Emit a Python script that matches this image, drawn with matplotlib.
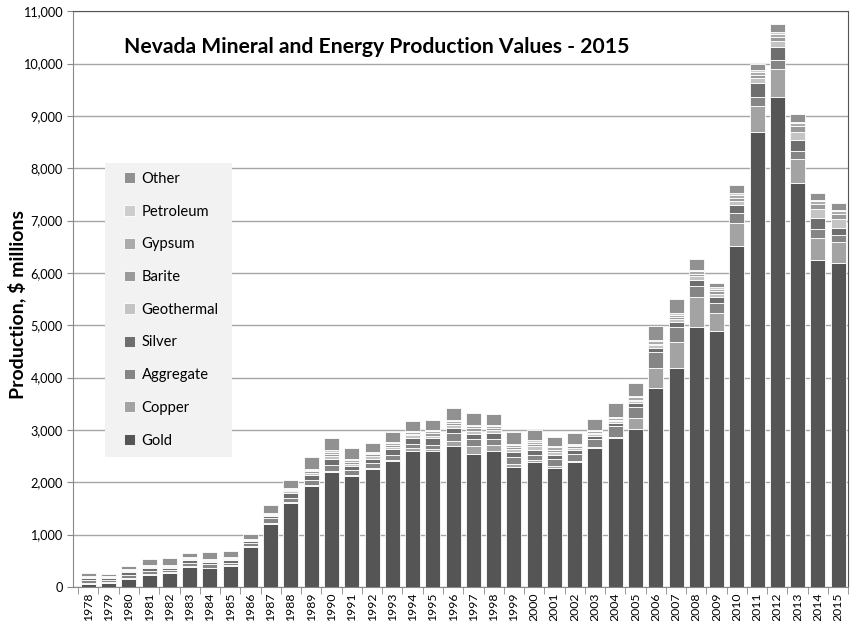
import matplotlib
matplotlib.use('Agg')
import matplotlib.pyplot as plt
import numpy as np
from matplotlib.ticker import FuncFormatter
from matplotlib.patches import Rectangle

years = list(range(1978, 2016))

gold = [50, 70, 153, 236, 274, 389, 357, 408, 771, 1200, 1605, 1930, 2200, 2120, 2250, 2405,
        2600, 2590, 2690, 2540, 2600, 2290, 2390, 2270, 2390, 2655, 2845, 3010, 3800, 4190,
        4970, 4890, 6510, 8690, 9360, 7720, 6245, 6190]
copper = [30, 20, 10, 10, 5, 10, 10, 5, 10, 20, 20, 20, 20, 20, 25, 30, 60, 40, 108, 159,
          108, 60, 30, 40, 20, 20, 30, 210, 388, 484, 567, 344, 446, 503, 535, 465, 420, 401]
aggregate = [45, 40, 66, 66, 46, 66, 66, 52, 66, 95, 69, 88, 107, 88, 90, 85, 80, 81, 140, 127,
             127, 131, 110, 138, 139, 152, 193, 223, 293, 300, 223, 191, 191, 178, 172, 153, 178, 127]
silver = [40, 36, 57, 45, 32, 51, 51, 51, 38, 45, 108, 96, 115, 76, 83, 108, 115, 127, 102, 102,
          108, 100, 96, 76, 64, 51, 64, 64, 89, 96, 115, 108, 153, 255, 255, 204, 204, 140]
geothermal = [5, 5, 5, 8, 10, 10, 12, 12, 8, 15, 25, 40, 55, 50, 50, 55, 45, 55, 55, 60,
              55, 55, 60, 60, 45, 45, 40, 45, 45, 50, 60, 70, 80, 100, 110, 150, 170, 170]
barite = [15, 12, 18, 22, 20, 15, 16, 14, 6, 14, 22, 35, 45, 38, 35, 35, 30, 40, 38, 42,
          35, 35, 40, 40, 28, 25, 22, 30, 35, 35, 45, 45, 55, 65, 80, 110, 100, 100]
gypsum = [15, 12, 16, 18, 18, 14, 15, 13, 6, 12, 20, 30, 42, 35, 33, 35, 30, 40, 38, 42,
          35, 38, 48, 45, 32, 35, 33, 40, 45, 45, 50, 50, 55, 55, 60, 60, 55, 55]
petroleum = [10, 6, 12, 16, 16, 12, 14, 12, 5, 10, 16, 22, 30, 23, 22, 21, 16, 24, 22, 28,
             22, 22, 30, 33, 22, 22, 20, 25, 28, 30, 36, 32, 33, 35, 37, 30, 25, 25]
other = [50, 55, 57, 108, 127, 83, 127, 127, 96, 146, 159, 229, 242, 204, 172, 185, 204, 185, 236, 217,
         210, 230, 204, 172, 204, 210, 267, 255, 255, 274, 204, 76, 159, 115, 140, 140, 127, 127]

series = [
    ('Gold', gold, '#555555'),
    ('Copper', copper, '#a3a3a3'),
    ('Aggregate', aggregate, '#858585'),
    ('Silver', silver, '#6e6e6e'),
    ('Geothermal', geothermal, '#c4c4c4'),
    ('Barite', barite, '#9a9a9a'),
    ('Gypsum', gypsum, '#ababab'),
    ('Petroleum', petroleum, '#cdcdcd'),
    ('Other', other, '#919191'),
]

plt.rcParams['font.family'] = ['Lato', 'DejaVu Sans']

W, H = 850, 621
fig = plt.figure(figsize=(8.5, 6.21), dpi=100)
ax = fig.add_axes([0.086, 0.0548, 0.912, 0.927])

x = np.arange(len(years))
bottom = np.zeros(len(years))
handles = []
for name, vals, color in series:
    h = ax.bar(x, vals, bottom=bottom, width=0.74, color=color, edgecolor='white',
               linewidth=0.6, label=name, zorder=3)
    handles.append(h)
    bottom += np.array(vals)

ax.set_ylim(0, 11000)
ax.set_xlim(-0.75, 37.45)
ax.set_yticks(np.arange(0, 11001, 1000))
ax.yaxis.set_major_formatter(FuncFormatter(lambda v, p: '{:,.0f}'.format(v)))
ax.grid(axis='y', color='#a6a6a6', linewidth=1.0, zorder=0)
ax.set_xticks(x)
ax.set_xticklabels([str(y) for y in years], rotation=90, fontsize=8.8)
ax.set_xticks(np.arange(-0.5, 38, 1), minor=True)
ax.tick_params(axis='x', which='major', length=0, pad=4)
ax.tick_params(axis='x', which='minor', length=5, color='#888888')
ax.tick_params(axis='y', labelsize=9.2, length=4, color='#888888')

for s in ['left', 'bottom']:
    ax.spines[s].set_color('#888888')
for s in ['top', 'right']:
    ax.spines[s].set_color('#555555')

ax.set_ylabel('Production, $ millions', fontsize=14, fontweight='bold')
ax.yaxis.set_label_coords(-0.061, 0.49)
fig.text(0.443, 0.925, 'Nevada Mineral and Energy Production Values - 2015',
         ha='center', va='center', fontsize=15.2, fontweight='bold')

# legend background box
bg = Rectangle((105 / W, 1 - 457 / H), 127 / W, 294 / H, transform=fig.transFigure,
               facecolor='#f2f2f2', edgecolor='none', zorder=4, clip_on=False)
ax.add_patch(bg)

leg = ax.legend(handles[::-1], [s[0] for s in series][::-1], loc='upper left',
                bbox_to_anchor=(124 / W, 1 - 172 / H), bbox_transform=fig.transFigure,
                frameon=False, fontsize=10.6,
                labelspacing=1.27, handlelength=0.75, handleheight=0.75,
                handletextpad=0.45, borderpad=0, borderaxespad=0)
leg.set_zorder(5)

plt.savefig('out.png', dpi=100)
